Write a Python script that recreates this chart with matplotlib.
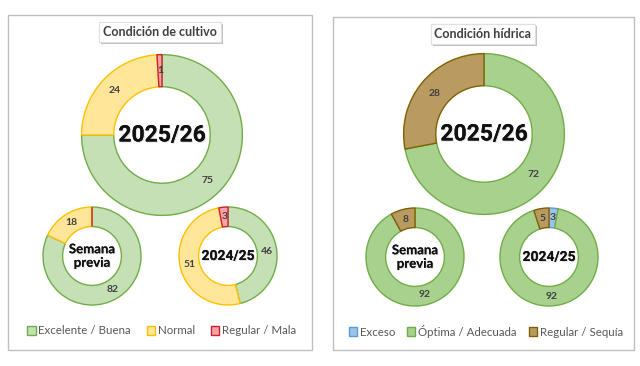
import matplotlib
matplotlib.use("Agg")
import matplotlib.pyplot as plt
from matplotlib.patches import Rectangle, Patch
from matplotlib import patheffects as pe
from matplotlib import font_manager as fm

# datos (% de area)
cult_names = ["Excelente / Buena", "Normal", "Regular / Mala"]
cult_actual = [75, 24, 1]
cult_previa = [82, 18, 0]
cult_anterior = [46, 51, 3]

hid_names = ["Exceso", "Óptima / Adecuada", "Regular / Sequía"]
hid_actual = [0, 72, 28]
hid_previa = [0, 92, 8]
hid_anterior = [3, 92, 5]

cult_fill = ["#c5e0b4", "#ffe699", "#f4a3a8"]
cult_edge = ["#70ad47", "#ffc000", "#d0202a"]
hid_fill = ["#9dc3e6", "#a9d18e", "#b99b62"]
hid_edge = ["#5b9bd5", "#70ad47", "#7f6000"]

W, H = 640, 366
names = {f.name for f in fm.fontManager.ttflist}
NARROW = "Liberation Sans Narrow" in names
BIG = "Liberation Sans Narrow" if NARROW else "Roboto"
TXT = "Lato"

fig = plt.figure(figsize=(W / 100, H / 100), dpi=100)
fig.patch.set_facecolor("white")


def donut(vals, fill, edge, cx, cy, r, center, csize):
    ax = fig.add_axes([(cx - r) / W, (H - cy - r) / H, 2 * r / W, 2 * r / H])
    wedges, texts, autot = ax.pie(
        vals, colors=fill, startangle=90, counterclock=False, radius=1,
        wedgeprops=dict(width=0.4, linewidth=1.0),
        autopct=lambda p: f"{p:.0f}" if p > 0.5 else "", pctdistance=0.8,
        textprops=dict(fontsize=7.5, color="#404040", fontweight="bold", family=TXT))
    for w, e in zip(wedges, edge):
        w.set_edgecolor(e)
    ax.set_xlim(-1.02, 1.02)
    ax.set_ylim(-1.02, 1.02)
    ax.set_aspect("equal")
    ax.axis("off")
    fam = BIG if "/" in center else TXT
    ax.text(0, 0, center, ha="center", va="center", fontsize=csize,
            fontweight="bold", family=fam, color="#111111", linespacing=1.15,
            path_effects=[pe.withSimplePatchShadow(offset=(0.8, -0.8), shadow_rgbFace="#bbbbbb", alpha=0.4),
                          pe.Normal()])
    return ax


# marcos
for x0, y0, x1, y1 in [(8, 15, 312, 350), (333, 17, 634, 350)]:
    fig.patches.append(Rectangle((x0 / W, 1 - y1 / H), (x1 - x0) / W, (y1 - y0) / H,
                                 transform=fig.transFigure, fill=False,
                                 edgecolor="#bfbfbf", linewidth=1))

# titulos
for x, y, s in [(160, 32, "Condición de cultivo"), (483, 34, "Condición hídrica")]:
    t = fig.text(x / W, 1 - y / H, s, ha="center", va="center", fontsize=9,
                 fontweight="bold", family=TXT, color="#404040",
                 bbox=dict(boxstyle="square,pad=0.3", fc="white", ec="#e0e0e0", lw=0.8))
    t.get_bbox_patch().set_path_effects(
        [pe.withSimplePatchShadow(offset=(1.5, -1.5), shadow_rgbFace="#808080", alpha=0.5), pe.Normal()])

SZ_BIG = 22 if NARROW else 16.5
SZ_SM = 13.5 if NARROW else 10

donut(cult_actual, cult_fill, cult_edge, 162, 135, 82, "2025/26", SZ_BIG)
donut(cult_previa, cult_fill, cult_edge, 92, 256, 50, "Semana\nprevia", 9.5)
donut(cult_anterior, cult_fill, cult_edge, 228, 256, 50, "2024/25", SZ_SM)

donut(hid_actual, hid_fill, hid_edge, 484, 134, 82, "2025/26", SZ_BIG)
donut(hid_previa, hid_fill, hid_edge, 415, 257, 50, "Semana\nprevia", 9.5)
donut(hid_anterior, hid_fill, hid_edge, 549, 257, 50, "2024/25", SZ_SM)

# leyendas
for cx, labs, fills, edges, sp in [(162, cult_names, cult_fill, cult_edge, 1.4),
                                   (486, hid_names, hid_fill, hid_edge, 1.05)]:
    handles = [Patch(facecolor=f, edgecolor=e, linewidth=1) for f, e in zip(fills, edges)]
    fig.legend(handles, labs, loc="center", bbox_to_anchor=(cx / W, 1 - 331 / H),
               ncol=3, frameon=False, handlelength=0.7, handleheight=0.7,
               handletextpad=0.25, columnspacing=sp,
               prop=dict(family=TXT, size=8.3), labelcolor="#595959")

fig.savefig("out.png", dpi=100, facecolor="white")
